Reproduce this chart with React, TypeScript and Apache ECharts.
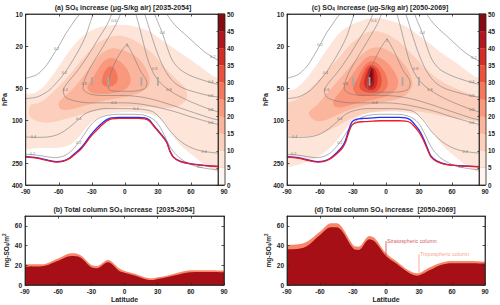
import React, { useEffect, useRef } from 'react';
import * as echarts from 'echarts';

const FONT = 'Liberation Sans, Arial, sans-serif';
const INK = '#262626';

// ---------- axes / ticks ----------
const latTicks = [-90, -60, -30, 0, 30, 60, 90];
const pressureTicks = [10, 20, 50, 100, 250, 400];
const colorbarTicks = [0, 5, 10, 15, 20, 25, 30, 35, 40, 45, 50];
const binColors = ['#fef4f0', '#fde5d9', '#fccfbc', '#fbb59c', '#f9987d', '#f4785c', '#eb513d', '#d42d26', '#b3161c', '#860b11'];
const columnTicks = [0, 20, 40, 60];

// ---------- panel (a) filled contours: [lat, hPa] ----------
const fillA05 = [[-90,58],[-82,55],[-74,48],[-66,38],[-58,29],[-50,22],[-42,17.5],[-34,15],[-25,13.5],[-15,12.8],[-5,12.6],[5,12.8],[14,13.5],[22,14.5],[30,16.5],[40,19.5],[50,23],[60,27],[70,32],[80,38],[90,44],[90,300],[84,300],[76,272],[68,238],[60,205],[52,175],[45,145],[40,120],[35,102],[28,90],[18,85],[5,83],[-8,84],[-18,88],[-26,96],[-32,108],[-38,126],[-44,150],[-50,168],[-58,178],[-70,180],[-80,180],[-90,180]];
const fillA10 = [[-86,72],[-78,68],[-70,60],[-62,50],[-54,41],[-46,33],[-38,26],[-30,21],[-22,18],[-14,16.5],[-6,16],[2,16.5],[10,18],[18,20.5],[26,24],[33,29],[40,35],[48,42],[55,50],[56,62],[50,72],[40,76],[30,75],[20,74],[5,74],[-10,76],[-25,80],[-40,88],[-55,97],[-68,104],[-78,102],[-86,92]];
const fillA15 = [[-60,68],[-52,56],[-44,46],[-36,36],[-28,28],[-20,23],[-12,21],[-4,21.5],[4,23],[12,26],[18,31],[22,38],[22,46],[16,53],[6,58],[-8,62],[-22,66],[-36,72],[-48,78],[-58,78]];
const fillA20 = [[-34,48],[-28,38],[-22,30],[-15,26],[-8,26.5],[-1,30],[4,36],[5,44],[0,51],[-10,55],[-22,56],[-31,54]];
const fillA25 = [[-21,42],[-18,34],[-14,31],[-10,32],[-7,37],[-7,43],[-11,47],[-16,48],[-20,46]];

// ---------- panel (c) filled contours ----------
const fillC05 = [[-90,55],[-82,50],[-74,42],[-66,33],[-58,25],[-50,19],[-42,15],[-34,13],[-25,11.8],[-15,11],[-5,11],[5,11.6],[14,12.5],[22,13.8],[30,16],[40,19],[50,23],[60,27],[70,32],[80,38],[90,43],[90,300],[84,300],[76,275],[68,240],[60,205],[52,172],[45,140],[40,118],[35,100],[28,88],[18,84],[5,82],[-8,83],[-18,86],[-26,94],[-32,106],[-38,124],[-44,150],[-50,175],[-58,205],[-66,228],[-74,248],[-82,262],[-90,262]];
const fillC10 = [[-90,70],[-82,64],[-74,56],[-66,47],[-58,38],[-50,31],[-42,25],[-34,20],[-26,17],[-18,15],[-10,14.5],[-2,15],[6,16.5],[14,19],[22,23],[30,28],[38,34],[48,41],[60,48],[72,54],[84,60],[90,64],[90,100],[80,100],[68,96],[55,92],[42,86],[30,82],[18,80],[5,80],[-8,82],[-20,86],[-30,94],[-40,106],[-50,120],[-62,135],[-74,140],[-84,138],[-90,135]];
const fillC15 = [[-70,85],[-62,70],[-54,56],[-46,45],[-38,36],[-30,29],[-22,24],[-14,21],[-6,20.5],[2,22],[10,25],[17,30],[22,37],[24,46],[20,55],[12,62],[0,66],[-14,70],[-28,76],[-42,86],[-54,98],[-64,100]];
const fillC20 = [[-48,66],[-42,54],[-36,44],[-30,36],[-23,29],[-16,25],[-8,25],[0,28],[7,34],[11,42],[9,51],[2,58],[-10,63],[-24,68],[-38,74],[-46,74]];
const fillC25 = [[-30,50],[-26,40],[-21,32],[-15,28],[-9,28.5],[-3,33],[1,40],[1,48],[-4,55],[-14,58],[-25,58]];
const fillC30 = [[-24,46],[-21,37],[-17,31],[-12,30],[-7,33],[-4,40],[-5,48],[-10,54],[-18,54],[-23,51]];
const fillC35 = [[-20,44],[-18,36],[-15,32],[-11,32],[-8,37],[-8,45],[-11,51],[-16,51],[-19,48]];
const fillC40 = [[-17,42],[-16,35],[-14,31],[-11.5,33],[-10.5,40],[-11.5,47],[-14,49],[-16,46]];
const fillC45 = [[-15.5,40],[-14.5,33],[-13,32],[-12,37],[-12.5,43],[-14,45]];

// ---------- contour lines (grey) ----------
const contA02a = [[-90,40],[-80,37],[-72,31],[-66,25],[-60,20],[-54,15.5],[-48,12.5],[-42,10.3],[-40,10]];
const contA02b = [[38,10],[42,11.5],[48,13.5],[56,16],[64,19],[72,22.5],[80,25.5],[90,29]];
const contA04a = [[-90,62],[-80,60],[-70,53],[-62,44],[-55,36],[-48,28],[-41,21],[-36,16.5],[-32,12.5],[-29,10]];
const contA04b = [[27,10],[30,12],[34,15],[38,20],[43,27],[50,33],[60,38],[72,42],[82,45],[90,47]];
const contA06a = [[-12,10],[-16,12.5],[-24,17],[-34,25],[-44,35],[-52,44],[-56,52],[-54,60],[-46,65],[-32,68],[-15,68],[0,68],[15,70],[30,75],[45,82],[60,92],[75,102],[90,112]];
const contA06b = [[18,10],[21,12.5],[25,17],[30,24],[36,33],[43,42],[52,49],[64,54],[76,58],[90,61]];
const contA08a = [[-4,10],[-8,12.5],[-14,16],[-22,22],[-30,30],[-36,40],[-38,50],[-32,56],[-20,58],[-5,58],[10,59],[25,63],[40,70],[55,79],[70,89],[80,96],[90,100]];
const contA08b = [[10,10],[13,13],[17,19],[21,27],[26,36],[33,45],[43,54],[55,63],[68,72],[80,80],[90,85]];
const contA1 = [[2,19],[-4,23],[-10,30],[-14,40],[-15,50],[-6,53],[6,53],[18,50],[20,44],[14,34],[8,25],[2,19]];
const contAlow04 = [[-90,142],[-80,143],[-70,142],[-62,136],[-55,125],[-48,110],[-42,97],[-36,86],[-28,80],[-18,77],[0,77],[15,78],[25,82],[31,92],[36,106],[41,125],[48,148],[56,170],[66,188],[78,198],[90,203]];
const contAlow02 = [[-90,206],[-80,210],[-70,218],[-63,222],[-56,215],[-50,198],[-45,175],[-40,150],[-35,125],[-30,107],[-24,95],[-16,89],[-6,87],[6,87],[16,88],[22,92],[27,99],[32,115],[36,138],[40,168],[45,200],[52,232],[62,262],[74,280],[90,292]];
const labelsA = [[-62,21.5,'0.2'],[-10,11.6,'0.6'],[-55,36,'0.4'],[-54,52,'0.6'],[-37,45,'0.8'],[2,20,'1'],[34,15,'0.4'],[27,33,'0.8'],[40,52,'0.8'],[80,25.5,'0.2'],[78,43.5,'0.4'],[78,59,'0.6'],[78,80,'0.8'],[78,104,'0.6'],[-83,142,'0.4'],[-42,97,'0.4'],[-42,160,'0.2'],[-84,207,'0.2'],[72,196,'0.4'],[68,272,'0.2'],[-10,68,'0.6'],[10,77,'0.4']];

const contC02a = [[-90,40],[-80,37],[-72,31],[-66,25],[-60,19.5],[-54,15],[-48,12.2],[-43,10.3],[-41,10]];
const contC02b = [[37,10],[41,11.5],[47,13.5],[55,16],[64,19.5],[72,23],[80,26],[90,29.5]];
const contC04a = [[-90,62],[-80,60],[-70,53],[-62,44],[-55,36],[-48,28],[-41,21],[-36,16.5],[-32,12.5],[-29,10]];
const contC04b = [[26,10],[29,12],[33,15],[37,20],[42,27],[49,33],[60,38],[72,42],[82,45],[90,47]];
const contC06a = [[-12,10],[-16,12.5],[-24,17],[-34,25],[-44,35],[-52,44],[-56,52],[-54,60],[-46,65],[-32,68],[-15,68],[0,68],[15,70],[30,75],[45,82],[60,92],[75,102],[90,112]];
const contC06b = [[18,10],[21,12.5],[25,17],[30,24],[36,33],[43,42],[52,49],[64,54],[76,58],[90,61]];
const contC08a = [[-4,10],[-8,12.5],[-14,16],[-22,22],[-30,30],[-36,40],[-38,50],[-32,56],[-20,58],[-5,58],[10,59],[25,63],[40,70],[55,79],[70,89],[80,96],[90,100]];
const contC08b = [[10,10],[13,13],[17,19],[21,27],[26,36],[33,45],[43,54],[55,63],[68,72],[80,80],[90,85]];
const contC1 = [[1,17],[-5,21],[-11,28],[-16,38],[-17,50],[-6,54],[8,54],[20,51],[22,44],[15,33],[8,23],[1,17]];
const contClow04 = [[-90,142],[-80,143],[-70,142],[-62,136],[-55,125],[-48,110],[-42,97],[-36,86],[-28,80],[-18,77],[0,77],[15,78],[25,82],[31,92],[36,106],[41,125],[48,148],[56,170],[66,188],[78,198],[90,203]];
const contClow02 = [[-90,206],[-80,210],[-70,218],[-63,222],[-56,215],[-50,198],[-45,175],[-40,150],[-35,125],[-30,107],[-24,95],[-16,89],[-6,87],[6,87],[16,88],[22,92],[27,99],[32,115],[36,138],[40,168],[45,200],[52,232],[62,262],[74,280],[90,292]];
const labelsC = [[-60,19.5,'0.2'],[-11,11.6,'0.6'],[-55,36,'0.4'],[-54,52,'0.6'],[-37,45,'0.8'],[1,18,'1'],[-14,44,'0.8'],[33,15,'0.4'],[27,33,'0.8'],[40,52,'0.8'],[80,26,'0.2'],[78,43.5,'0.4'],[78,59,'0.6'],[78,80,'0.8'],[78,104,'0.6'],[-83,142,'0.4'],[-42,97,'0.4'],[-42,160,'0.2'],[-84,207,'0.2'],[72,196,'0.4'],[68,272,'0.2'],[-10,68,'0.6']];

// ---------- tropopause ----------
const tropRedA = [[-90,219],[-80,224],[-70,236],[-62,244],[-56,240],[-50,225],[-45,205],[-40,185],[-36,165],[-32,145],[-28,130],[-24,118],[-20,108],[-16,100],[-12,96],[-5,95],[5,95],[12,95],[18,96],[22,100],[26,112],[30,125],[34,140],[38,160],[41,195],[44,220],[50,240],[58,252],[68,260],[80,267],[90,270]];
const tropBlueA = [[-90,217],[-80,222],[-70,234],[-62,242],[-56,238],[-50,222],[-45,201],[-40,180],[-36,160],[-32,140],[-28,125],[-24,113],[-20,104],[-16,97],[-12,94],[-5,93],[5,93],[12,93],[18,94],[22,98],[26,110],[30,123],[34,138],[38,158],[41,192],[44,218],[50,239],[58,251],[68,259],[80,266],[90,269]];
const tropRedC = [[-90,219],[-80,224],[-70,236],[-62,244],[-56,240],[-50,225],[-45,205],[-40,182],[-37,161],[-34,130],[-31,110],[-27,104],[-20,102],[-12,101],[-5,100],[5,100],[12,100],[18,101],[22,104],[26,114],[30,128],[34,152],[38,190],[41,219],[46,240],[55,258],[68,265],[80,269],[90,271]];
const tropBlueC = [[-90,217],[-80,222],[-70,234],[-62,242],[-56,238],[-50,222],[-45,200],[-40,176],[-37,154],[-34,123],[-31,103],[-27,97],[-20,95],[-12,94],[-5,93],[5,93],[12,93],[18,94],[22,98],[26,108],[30,122],[34,146],[38,184],[41,215],[46,238],[55,256],[68,264],[80,268],[90,270]];

// ---------- injection markers ----------
const injectionLats = [-30, -15, 15, 30];
const injectionTop = 39;
const injectionBottom = 47;

// ---------- total column panels (top of dark = stratospheric, top of light = total) ----------
const latB = [-90,-75,-60,-48,-40,-30,-25,-15,-5,0,10,20,25,30,40,50,60,75,90];
const stratB = [18.6,19,24.7,29.4,28,18,17,23,14.5,12.5,9.5,5.7,5,6,8.4,11,12.9,13.2,13];
const totalB = [21,21,27,32.3,30.4,20.3,19.3,25.4,17,14.2,11.2,7.4,6.8,7.8,10,12.9,14.9,14.9,14.5];
const latD = [-90,-75,-60,-50,-45,-40,-30,-25,-15,-10,0,10,20,28,40,50,60,75,90];
const stratD = [36.2,37.8,50.7,58.5,58.5,54.8,37.2,35.5,46.3,43.9,29.4,21.3,12.9,9.5,15.2,20.3,22,22,21.7];
const totalD = [40.6,42.3,54,62.6,62.6,58.5,40.6,38.9,49.7,47.3,32.1,23.6,15.2,11.8,18,22.6,24.3,24.3,23.6];
const stratLeader = [[0, 30], [0, 44.5]];
const tropLeader = [[30, 12.5], [30, 31]];

const fillsA = [[5, fillA05], [10, fillA10], [15, fillA15], [20, fillA20], [25, fillA25]];
const fillsC = [[5, fillC05], [10, fillC10], [15, fillC15], [20, fillC20], [25, fillC25], [30, fillC30], [35, fillC35], [40, fillC40], [45, fillC45]];
const contoursA = [contA02a, contA02b, contA04a, contA04b, contA06a, contA06b, contA08a, contA08b, contA1, contAlow04, contAlow02];
const contoursC = [contC02a, contC02b, contC04a, contC04b, contC06a, contC06b, contC08a, contC08b, contC1, contClow04, contClow02];

const lineStyleInk = { color: INK, width: 0.8 };
const tickLabel = { fontSize: 6.5, color: INK, fontFamily: FONT, fontWeight: 'bold' as const };

function latAxis(gridIndex: number, position: string, show: boolean, name = '') {
  return {
    type: 'value', gridIndex, position, min: -90, max: 90, interval: 30, z: 6,
    axisLine: { show: true, onZero: false, lineStyle: lineStyleInk },
    axisTick: { show: true, inside: true, length: 2.5, lineStyle: lineStyleInk, customValues: latTicks },
    axisLabel: { show, margin: 3, customValues: latTicks, ...tickLabel },
    splitLine: { show: false },
    name, nameLocation: 'middle', nameGap: 11,
    nameTextStyle: { fontSize: 7, fontWeight: 'bold', color: INK, fontFamily: FONT },
  };
}
function pAxis(gridIndex: number, position: string, show: boolean) {
  return {
    type: 'log', logBase: 10, gridIndex, position, min: 10, max: 400, inverse: true, z: 6,
    axisLine: { show: true, onZero: false, lineStyle: lineStyleInk },
    axisTick: { show: true, inside: true, length: 2.5, lineStyle: lineStyleInk, customValues: pressureTicks },
    axisLabel: { show, margin: 3, customValues: pressureTicks, ...tickLabel },
    splitLine: { show: false }, minorTick: { show: false },
    name: show ? 'hPa' : '', nameLocation: 'middle', nameGap: 17, nameRotate: 90,
    nameTextStyle: { fontSize: 7, fontWeight: 'bold', color: INK, fontFamily: FONT },
  };
}
function colAxis(gridIndex: number, position: string, show: boolean) {
  return {
    type: 'value', gridIndex, position, min: 0, max: 70, z: 6,
    axisLine: { show: true, onZero: false, lineStyle: lineStyleInk },
    axisTick: { show: true, inside: true, length: 2.5, lineStyle: lineStyleInk, customValues: columnTicks },
    axisLabel: { show, margin: 3, customValues: columnTicks, ...tickLabel },
    splitLine: { show: false },
    name: show ? '{t|mg-SO}{s|4}{t|/m}{p|2}' : '', nameLocation: 'middle', nameGap: 13, nameRotate: 90,
    nameTextStyle: {
      rich: {
        t: { fontSize: 6.5, fontWeight: 'bold', color: INK, fontFamily: FONT },
        s: { fontSize: 4.5, fontWeight: 'bold', color: INK, fontFamily: FONT, padding: [4, 0, 0, 0] },
        p: { fontSize: 4.5, fontWeight: 'bold', color: INK, fontFamily: FONT, padding: [0, 0, 4, 0] },
      },
    },
  };
}
function cbXAxis(gridIndex: number) {
  return { type: 'value', gridIndex, min: 0, max: 1, show: false };
}
function cbYAxis(gridIndex: number) {
  return {
    type: 'value', gridIndex, position: 'right', min: 0, max: 50, interval: 5, z: 11,
    axisLine: { show: true, lineStyle: lineStyleInk },
    axisTick: { show: true, inside: true, length: 1.5, lineStyle: lineStyleInk },
    axisLabel: { margin: 2, ...tickLabel, fontSize: 6.3 },
    splitLine: { show: false },
  };
}

function topPanelSeries(ax: number, fills: any[], contours: number[][][], labels: any[], red: number[][], blue: number[][]) {
  const s: any[] = [];
  s.push({
    type: 'custom', xAxisIndex: ax, yAxisIndex: ax, clip: true, z: 2, silent: true,
    data: fills.map((f) => f[1][0]),
    renderItem: (params: any, api: any) => {
      const f = fills[params.dataIndex];
      const pts = f[1].map((pt: number[]) => api.coord(pt));
      return { type: 'polygon', shape: { points: pts, smooth: 0.35 }, style: { fill: binColors[colorbarTicks.indexOf(f[0])], stroke: null } };
    },
  });
  contours.forEach((c) => {
    s.push({
      type: 'line', xAxisIndex: ax, yAxisIndex: ax, data: c, smooth: 0.3, symbol: 'none', silent: true, z: 3,
      lineStyle: { color: '#7a7a7a', width: 0.6 },
    });
  });
  s.push({
    type: 'scatter', xAxisIndex: ax, yAxisIndex: ax, data: labels, symbolSize: 0, silent: true, z: 4,
    label: { show: true, position: 'inside', formatter: (p: any) => String(p.value[2]), fontSize: 3.8, color: '#555', fontFamily: FONT },
  });
  s.push({
    type: 'custom', xAxisIndex: ax, yAxisIndex: ax, z: 5, silent: true,
    data: injectionLats.map((l) => [l, injectionTop]),
    renderItem: (params: any, api: any) => {
      const lat = api.value(0);
      const a = api.coord([lat, injectionTop]);
      const b = api.coord([lat, injectionBottom]);
      return { type: 'line', shape: { x1: a[0], y1: a[1], x2: b[0], y2: b[1] }, style: { stroke: '#a8a8a8', lineWidth: 1.8 } };
    },
  });
  s.push({ type: 'line', xAxisIndex: ax, yAxisIndex: ax, data: blue, smooth: 0.3, symbol: 'none', silent: true, z: 4, lineStyle: { color: '#1f2fff', width: 1.3 } });
  s.push({ type: 'line', xAxisIndex: ax, yAxisIndex: ax, data: red, smooth: 0.3, symbol: 'none', silent: true, z: 4, lineStyle: { color: '#ee1c24', width: 1.3 } });
  return s;
}

function colorbarSeries(ax: number) {
  return {
    type: 'custom', xAxisIndex: ax, yAxisIndex: ax, z: 9, silent: true,
    data: colorbarTicks.slice(0, -1).map((v) => [0, v]),
    renderItem: (params: any, api: any) => {
      const i = params.dataIndex;
      const lo = api.coord([0, colorbarTicks[i]]);
      const hi = api.coord([1, colorbarTicks[i + 1]]);
      return { type: 'rect', shape: { x: lo[0], y: hi[1], width: hi[0] - lo[0], height: lo[1] - hi[1] }, style: { fill: binColors[i] } };
    },
  };
}

function columnSeries(ax: number, lats: number[], strat: number[], total: number[]) {
  return [
    {
      type: 'line', xAxisIndex: ax, yAxisIndex: ax, data: lats.map((l, i) => [l, total[i]]), smooth: 0.35,
      symbol: 'none', silent: true, z: 2, lineStyle: { width: 0 }, areaStyle: { color: '#f7866a', opacity: 1 },
    },
    {
      type: 'line', xAxisIndex: ax, yAxisIndex: ax, data: lats.map((l, i) => [l, strat[i]]), smooth: 0.35,
      symbol: 'none', silent: true, z: 3, lineStyle: { width: 0 }, areaStyle: { color: '#a50f15', opacity: 1 },
    },
  ];
}

const richTitle = {
  t: { fontSize: 7, fontWeight: 'bold', fill: INK, fontFamily: FONT },
  s: { fontSize: 4.8, fontWeight: 'bold', fill: INK, fontFamily: FONT, padding: [4, 0, 0, 0] },
};
function titleText(x: number, y: number, text: string) {
  return { type: 'text', x, y, silent: true, style: { text, rich: richTitle, align: 'center', verticalAlign: 'middle' } };
}

export default function App() {
  const ref = useRef<HTMLDivElement>(null);
  useEffect(() => {
    const chart = echarts.init(ref.current!, null, { renderer: 'svg' });
    const panelGrid = { show: true, borderColor: INK, borderWidth: 0.8, backgroundColor: 'transparent', z: 6 };
    const cbGrid = { show: true, borderColor: INK, borderWidth: 0.8, backgroundColor: 'transparent', z: 10 };
    const option: any = {
      animation: false,
      textStyle: { fontFamily: FONT },
      grid: [
        { left: 25, top: 14, width: 199, height: 171, ...panelGrid },
        { left: 218, top: 14, width: 7, height: 171, ...cbGrid },
        { left: 287, top: 14, width: 198, height: 171, ...panelGrid },
        { left: 479, top: 14, width: 7, height: 171, ...cbGrid },
        { left: 25, top: 216, width: 199, height: 69, ...panelGrid },
        { left: 287, top: 216, width: 198, height: 69, ...panelGrid },
      ],
      xAxis: [
        latAxis(0, 'bottom', true), cbXAxis(1), latAxis(2, 'bottom', true), cbXAxis(3),
        latAxis(4, 'bottom', true, 'Latitude'), latAxis(5, 'bottom', true, 'Latitude'),
        latAxis(0, 'top', false), latAxis(2, 'top', false), latAxis(4, 'top', false), latAxis(5, 'top', false),
      ],
      yAxis: [
        pAxis(0, 'left', true), cbYAxis(1), pAxis(2, 'left', true), cbYAxis(3),
        colAxis(4, 'left', true), colAxis(5, 'left', true),
        pAxis(0, 'right', false), pAxis(2, 'right', false), colAxis(4, 'right', false), colAxis(5, 'right', false),
      ],
      series: [
        ...topPanelSeries(0, fillsA, contoursA, labelsA, tropRedA, tropBlueA),
        colorbarSeries(1),
        ...topPanelSeries(2, fillsC, contoursC, labelsC, tropRedC, tropBlueC),
        colorbarSeries(3),
        ...columnSeries(4, latB, stratB, totalB),
        ...columnSeries(5, latD, stratD, totalD),
        { type: 'line', xAxisIndex: 5, yAxisIndex: 5, data: stratLeader, symbol: 'none', silent: true, z: 4, lineStyle: { color: '#c8282d', width: 0.7 } },
        { type: 'line', xAxisIndex: 5, yAxisIndex: 5, data: tropLeader, symbol: 'none', silent: true, z: 4, lineStyle: { color: '#f7866a', width: 0.7 } },
        {
          type: 'scatter', xAxisIndex: 5, yAxisIndex: 5, symbolSize: 0, silent: true, z: 5,
          data: [
            { value: stratLeader[1], name: 'Stratospheric column', label: { color: '#c8282d' } },
            { value: tropLeader[1], name: 'Tropospheric column', label: { color: '#f7866a' } },
          ],
          label: { show: true, position: 'right', distance: 1, fontSize: 5.3, fontFamily: FONT, formatter: '{b}' },
        },
      ],
      graphic: [
        titleText(123, 7, '{t|(a) SO}{s|4}{t| increase (μg-S/kg air) [2035-2054]}'),
        titleText(380, 7, '{t|(c) SO}{s|4}{t| increase (μg-S/kg air) [2050-2069]}'),
        titleText(124, 209, '{t|(b) Total column SO}{s|4}{t| increase  [2035-2054]}'),
        titleText(385, 209, '{t|(d) Total column SO}{s|4}{t| increase  [2050-2069]}'),
      ],
    };
    chart.setOption(option);
    return () => chart.dispose();
  }, []);
  return <div ref={ref} style={{ position: 'absolute', left: 0, top: 0, width: 500, height: 305 }} />;
}
